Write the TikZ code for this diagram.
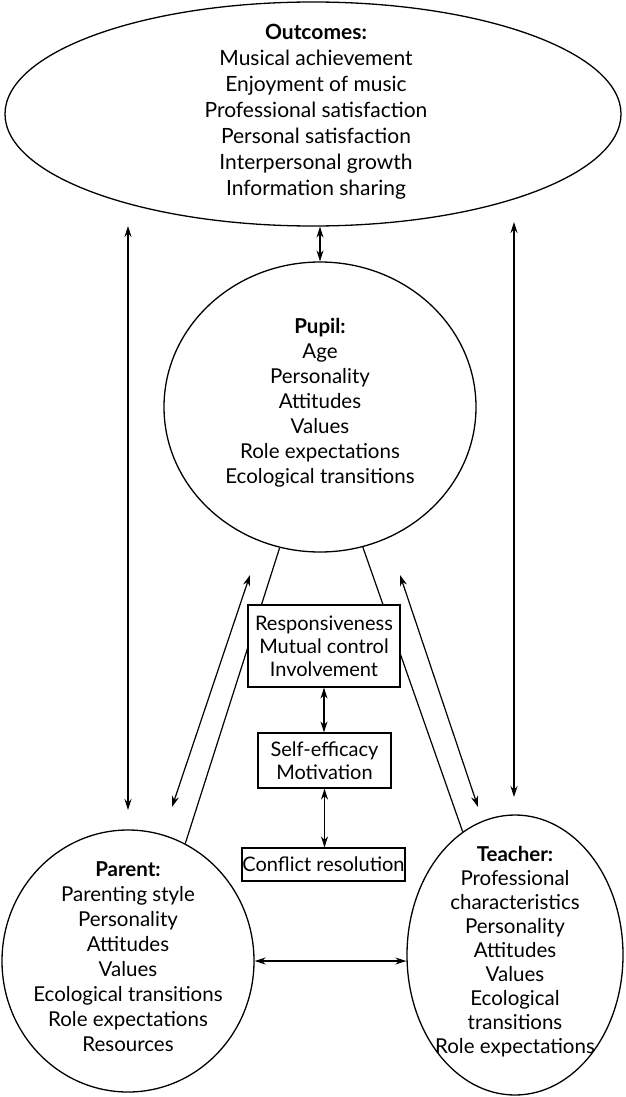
\documentclass[tikz,border=0pt]{standalone}
\usepackage{fontspec}
\setmainfont{Lato}
\usetikzlibrary{shapes.geometric,arrows.meta}
\begin{document}
\begin{tikzpicture}[x=1pt,y=-1pt,
  shp/.style={draw,line width=1.3pt,inner sep=0pt},
  txt/.style={align=center,font=\fontsize{20.5}{25}\selectfont,inner sep=0pt},
  otxt/.style={align=center,font=\fontsize{21}{26}\selectfont,inner sep=0pt},
  box/.style={draw,line width=1.2pt,fill=white,align=center,inner sep=0pt,font=\fontsize{20}{23}\selectfont},
  ln/.style={line width=1.2pt},
  arr/.style={line width=1.2pt,{Stealth[length=11pt,width=7pt]}-{Stealth[length=11pt,width=7pt]}},
]
\useasboundingbox (0,0) rectangle (626,1097);
% shapes
\node[shp,ellipse,minimum width=616pt,minimum height=224pt] (outcomes) at (313,114) {};
\node[otxt] (outt) at (316,112) {\textbf{Outcomes:}\\Musical achievement\\Enjoyment of music\\Professional satisfaction\\Personal satisfaction\\Interpersonal growth\\Information sharing};
\node[shp,ellipse,minimum width=312pt,minimum height=290pt] (pupil) at (320,407) {};
\node[txt] (pupt) at (320,403) {\textbf{Pupil:}\\Age\\Personality\\Attitudes\\Values\\Role expectations\\Ecological transitions};
\node[shp,ellipse,minimum width=252pt,minimum height=262pt] (parent) at (128,961) {};
\node[txt] (part) at (128,957) {\textbf{Parent:}\\Parenting style\\Personality\\Attitudes\\Values\\Ecological transitions\\Role expectations\\Resources};
\node[shp,ellipse,minimum width=216pt,minimum height=280pt] (teacher) at (515,955) {};
\node[txt,font=\fontsize{20.5}{24}\selectfont] (teat) at (515,952) {\textbf{Teacher:}\\Professional\\characteristics\\Personality\\Attitudes\\Values\\Ecological\\transitions\\Role expectations};
% plain lines
\draw[ln] (pupil.254) -- (parent.64);
\draw[ln] (pupil.287) -- (teacher.113);
% free arrow ends
\coordinate (a1t) at (250,575);
\coordinate (a1b) at (172,807);
\coordinate (a2t) at (400,575);
\coordinate (a2b) at (478,807);
\coordinate (vlt) at (128,226);
\coordinate (vlb) at (128,810);
\coordinate (vrt) at (514,222);
\coordinate (vrb) at (514,797);
\draw[arr] (a1t) -- (a1b);
\draw[arr] (a2t) -- (a2b);
\draw[arr] (vlt) -- (vlb);
\draw[arr] (vrt) -- (vrb);
\draw[arr] (pupil.north |- outcomes.south) -- (pupil.north);
\draw[arr] (parent.east) -- (parent.east -| teacher.west);
% boxes
\node[box,minimum width=152pt,minimum height=82pt] (b1) at (324,646) {Responsiveness\\Mutual control\\Involvement};
\node[box,minimum width=133pt,minimum height=55pt] (b2) at (324.5,760.5) {Self-efficacy\\Motivation};
\node[box,minimum width=163pt,minimum height=33pt] (b3) at (323.5,864.5) {Conflict resolution};
\draw[arr] (b1.south) -- (b1.south |- b2.north);
\draw[arr] (b2.south) -- (b2.south |- b3.north);
\end{tikzpicture}
\end{document}
